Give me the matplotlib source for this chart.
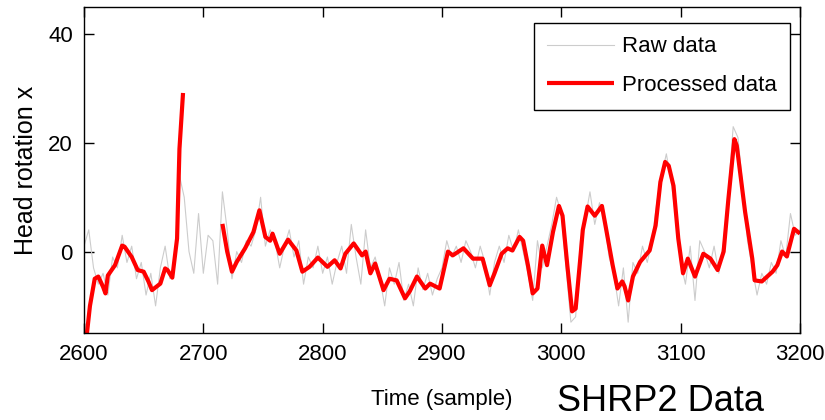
import numpy as np
import matplotlib as mpl
mpl.use("Agg")
import matplotlib.pyplot as plt

# raw head-rotation samples (read every 4 samples off the figure)
raw_x = list(range(2600, 3201, 4))
raw_y = [
    1, 4, -3, -6, -4, -8, -1, -3, 3, -2, 1, -5, -2, -8, -4, -10, -3, 1, -5, -2,
    14, 10, 0, -4, 7, -4, 3, 2, -6, 11, 4, -5, 0, -2, 2, 1, 4, 10, 1, 4,
    2, -3, 1, 4, -1, 2, -6, -1, -3, 1, -4, -1, -6, -2, 1, -4, 5, -1, -6, 4,
    -3, -1, -5, -10, -3, -6, -2, -9, -6, -10, -3, -7, -4, -8, -5, -3, 2, -1, 1, -2,
    2, 0, -3, 1, -2, -8, -2, 1, -2, 3, 0, 4, 0, -4, -9, 2, -3, 1, 5, 10,
    7, -3, -13, -12, 2, 6, 11, 5, 9, 6, -1, -4, -10, -3, -13, -2, -4, 1, -2, 2,
    9, 14, 18, 13, 6, -2, -6, 1, -9, 2, 0, -3, 1, -4, 2, 11, 23, 21, 12, 2,
    -3, -8, -4, -6, -2, -4, 2, -1, 7, 3, 4,
]

# processed (filtered) signal, NaN marks the gap with no output
proc_x = [
    2601, 2605, 2609, 2612, 2616, 2618, 2620, 2626, 2632, 2634, 2640, 2645, 2650,
    2654, 2657, 2664, 2668, 2670, 2674, 2678, 2680, 2683, 2700,
    2716, 2720, 2724, 2728, 2735, 2742, 2747, 2752, 2756, 2758, 2764, 2771, 2778,
    2783, 2789, 2796, 2804, 2810, 2815, 2819, 2826, 2833, 2836, 2840, 2844, 2851,
    2856, 2862, 2869, 2873, 2879, 2886, 2890, 2898, 2905, 2909, 2918, 2926, 2934,
    2940, 2944, 2950, 2955, 2959, 2965, 2968, 2972, 2976, 2980, 2984, 2988, 2993,
    2998, 3001, 3005, 3009, 3012, 3016, 3018, 3022, 3028, 3034, 3037, 3043, 3047,
    3051, 3053, 3056, 3060, 3066, 3074, 3079, 3083, 3087, 3090, 3094, 3098, 3102,
    3106, 3112, 3119, 3125, 3131, 3136, 3140, 3145, 3147, 3154, 3160, 3162, 3168,
    3177, 3181, 3185, 3189, 3195, 3200,
]
proc_y = [
    -18, -10, -5, -4.6, -6.5, -7.7, -4.4, -2.5, 1.1, 0.9, -1, -3.4, -3.7,
    -5.5, -7.1, -5.9, -3.1, -3.4, -4.8, 2.4, 18.9, 29.2, np.nan,
    5.1, 0, -3.7, -1.9, 0.6, 3.6, 7.6, 2.7, 2, 3.3, -0.4, 2.2, 0.2,
    -3.7, -2.8, -1.1, -2.8, -1.6, -3.1, -0.4, 1.5, -0.7, 0, -4, -2.2, -7.1,
    -5, -5.3, -8.6, -7.3, -4.6, -6.8, -5.9, -6.8, 0, -0.7, 0.6, -1.3, -1.3,
    -6.2, -4, -0.4, 0.6, 0.2, 2.7, 2, -2.5, -7.7, -6.8, 1.1, -2.5, 3.6,
    8.4, 6.6, -2.5, -11, -10.5, -1, 4, 8.3, 6.6, 8.4, 4.8, -2.5, -6.8,
    -5.5, -6.4, -9, -4.6, -1.9, 0.2, 4.8, 12.8, 16.5, 15.8, 12.1, 2.4, -4,
    -1.3, -4.6, -0.4, -1.3, -3.4, 0, 9.7, 20.7, 19.5, 7.3, -1.3, -5.3, -5.5,
    -3.7, -2.5, 0, -0.9, 4.2, 3.3,
]

x_ticks = [2600, 2700, 2800, 2900, 3000, 3100, 3200]
y_ticks = [0, 20, 40]

plt.rcParams["font.family"] = ["Liberation Sans", "DejaVu Sans"]

fig = plt.figure(figsize=(8.25, 4.2), dpi=100)
ax = fig.add_axes([0.1018, 0.207, 0.8679, 0.776])

ax.plot(raw_x, raw_y, color="#cccccc", lw=0.8, label="Raw data")
ax.plot(proc_x, proc_y, color="#ff0000", lw=3, solid_capstyle="butt", label="Processed data")

ax.set_xlim(2600, 3200)
ax.set_ylim(-15, 45)
ax.set_xticks(x_ticks)
ax.set_yticks(y_ticks)
ax.tick_params(direction="in", length=7, width=1, top=True, right=True,
               labelsize=16, pad=8, colors="black")
for s in ax.spines.values():
    s.set_linewidth(1)

ax.set_ylabel("Head rotation x", fontsize=18, labelpad=7)
ax.set_xlabel("Time (sample)", fontsize=16, labelpad=17)

leg = ax.legend(loc="upper right", bbox_to_anchor=(0.986, 0.951), borderaxespad=0,
                fontsize=16, frameon=True, fancybox=False,
                edgecolor="black", framealpha=1, handlelength=3.0,
                borderpad=0.6, labelspacing=0.8, handletextpad=0.35)
leg.get_frame().set_linewidth(1)

fig.text(0.675, 0.022, "SHRP2 Data", fontsize=26, ha="left", va="baseline")

fig.savefig("out.png", dpi=100)
